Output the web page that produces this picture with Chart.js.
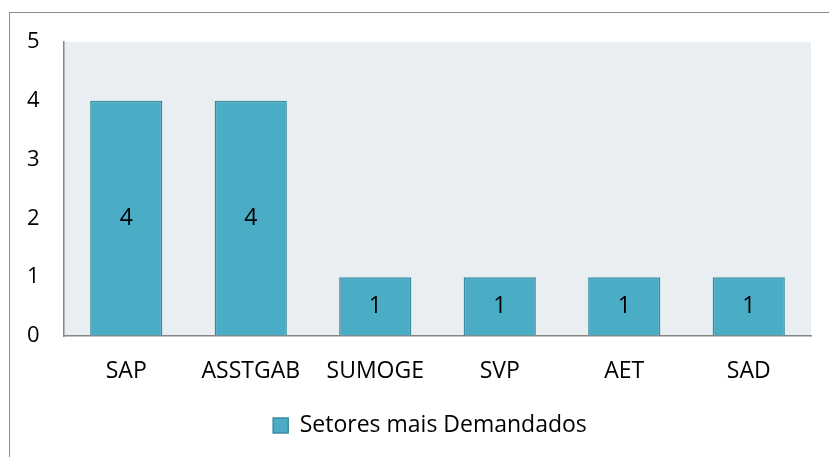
<!DOCTYPE html>
<html>
<head>
<meta charset="utf-8">
<script src="https://cdn.jsdelivr.net/npm/chart.js@4"></script>
<style>
  body { margin: 0; background: #fff; overflow: hidden; }
  #moldura { position: absolute; left: 9px; top: 12px; width: 900px; height: 500px; border: 1px solid #8c8c8c; }
  #wrap { position: absolute; left: 0; top: 0; width: 829px; height: 457px; }
</style>
</head>
<body>
<div id="moldura"></div>
<div id="wrap"><canvas id="setores"></canvas></div>
<script>
// dados do gráfico
const categorias = ['SAP', 'ASSTGAB', 'SUMOGE', 'SVP', 'AET', 'SAD'];
const valores = [4, 4, 1, 1, 1, 1];
const nomeSerie = 'Setores mais Demandados';
const ticksY = [0, 1, 2, 3, 4, 5];

const fonte = { family: '"Open Sans", sans-serif', size: 23 };
const fonteY = { family: '"Open Sans", sans-serif', size: 22 };

// fundo da área do gráfico
const fundoArea = {
  id: 'fundoArea',
  beforeDraw(chart) {
    const { ctx, chartArea: a } = chart;
    ctx.save();
    ctx.fillStyle = '#e8eef1';
    ctx.fillRect(a.left, a.top, a.right - a.left, a.bottom - a.top);
    ctx.restore();
  }
};

// rótulos de valor no meio das barras
const rotulos = {
  id: 'rotulos',
  afterDatasetsDraw(chart) {
    const ctx = chart.ctx;
    const meta = chart.getDatasetMeta(0);
    ctx.save();
    ctx.fillStyle = '#000';
    ctx.font = fonte.size + 'px ' + fonte.family;
    ctx.textAlign = 'center';
    ctx.textBaseline = 'middle';
    meta.data.forEach((bar, i) => {
      const p = bar.getProps(['x', 'y', 'base'], true);
      ctx.fillText(String(valores[i]), p.x, (p.y + p.base) / 2);
    });
    ctx.restore();
  }
};

new Chart(document.getElementById('setores').getContext('2d'), {
  type: 'bar',
  data: {
    labels: categorias,
    datasets: [{
      label: nomeSerie,
      data: valores,
      backgroundColor: '#4bacc6',
      borderColor: '#3a8aa1',
      borderWidth: 1.5,
      categoryPercentage: 1,
      barPercentage: 0.58
    }]
  },
  options: {
    responsive: true,
    maintainAspectRatio: false,
    animation: false,
    layout: { padding: { left: 49, right: 18, top: 42, bottom: 10 } },
    plugins: {
      tooltip: { enabled: false },
      legend: {
        position: 'bottom',
        labels: {
          color: '#000',
          font: fonte,
          boxWidth: 15,
          boxHeight: 15,
          padding: 8
        }
      }
    },
    scales: {
      y: {
        min: 0,
        max: 5,
        afterFit: (ax) => { ax.width = 15; },
        grid: { color: 'transparent', drawTicks: false },
        border: { display: true, color: '#868686', width: 1.5 },
        ticks: {
          color: '#000', font: fonteY, stepSize: 1,
          mirror: true, padding: -37, // rótulos à esquerda, fora da área do eixo
          callback: (v) => ticksY.includes(v) ? String(v) : ''
        }
      },
      x: {
        afterFit: (ax) => { ax.height = 70; },
        grid: { color: 'transparent', drawTicks: false },
        border: { display: true, color: '#868686', width: 1.5 },
        ticks: { color: '#000', font: fonte, padding: 22 }
      }
    }
  },
  plugins: [fundoArea, rotulos]
});
</script>
</body>
</html>
